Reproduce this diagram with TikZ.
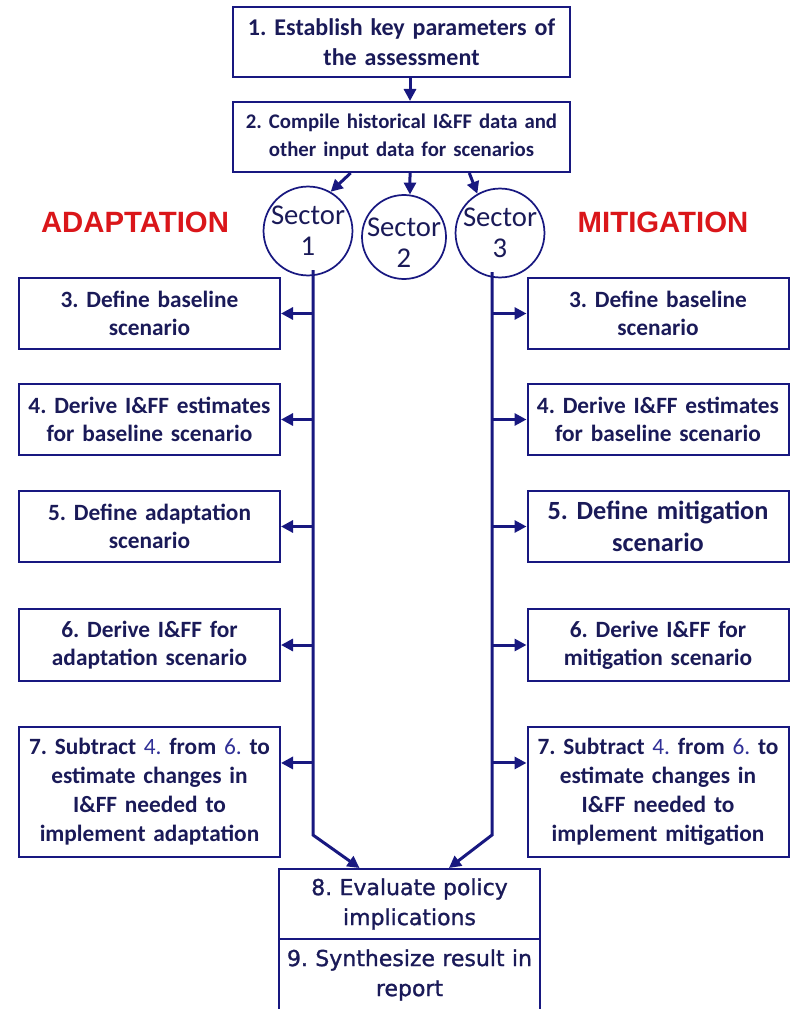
\documentclass[tikz,border=0pt]{standalone}
\usepackage{fontspec}
\setmainfont{Carlito}
\newfontfamily\headfont{Liberation Sans}
\newfontfamily\evalfont[FakeBold=1.2]{DejaVu Sans}
\usetikzlibrary{arrows.meta,positioning,calc}
\definecolor{navyline}{RGB}{24,24,128}
\definecolor{navytext}{RGB}{26,26,88}
\definecolor{numblue}{RGB}{48,48,150}
\definecolor{headred}{RGB}{218,22,26}
\newcommand\stepnum[1]{{\mdseries\color{numblue}#1}}
\newcommand\lowtext[1]{\raisebox{-12pt}[0pt][0pt]{\begin{tabular}{@{}c@{}}#1\end{tabular}}}
\tikzset{
  >={Triangle[length=9pt,width=9pt]},
  every node/.append style={text=navytext},
  box/.style={draw=navyline, line width=1.5pt, align=center, inner sep=2pt,
    font=\bfseries\fontsize{17.5}{21}\selectfont},
  topbox/.style={box, minimum width=252.75pt, minimum height=52.5pt, text width=245pt},
  sidebox/.style={box, minimum width=195.75pt, minimum height=53.25pt, text width=190pt},
  endbox/.style={box, minimum width=195.75pt, minimum height=52.5pt, text width=190pt,
    font=\evalfont\fontsize{16.5}{22.5}\selectfont},
  sector/.style={draw=navyline, line width=1.3pt, circle, minimum size=60pt, inner sep=0pt,
    align=center, font=\fontsize{21.5}{23.25}\selectfont},
  sidelabel/.style={text=headred, font=\headfont\bfseries\fontsize{22}{26}\selectfont},
  spine/.style={draw=navyline, line width=2.25pt}
}

\begin{document}
\frenchspacing
\begin{tikzpicture}[x=0.75pt,y=-0.75pt]
\useasboundingbox (0,0) rectangle (790,1009);

% shared steps
\node[topbox, font=\bfseries\fontsize{18}{22.5}\selectfont] (establish) at (401.5,42) {1. Establish key parameters of\\the assessment};
\node[topbox, font=\bfseries\fontsize{15.6}{21}\selectfont] (compile) at (401.5,137) {2. Compile historical I\&FF data and\\other input data for scenarios};

\node[sector] (sec1) at (308,231) {Sector\\1};
\node[sector, minimum size=63pt] (sec2) at (404,237) {\lowtext{Sector\\[0.2pt]2}};
\node[sector] (sec3) at (500,233) {Sector\\3};

\node[sidelabel] (adapt) at (135,222) {ADAPTATION};
\node[sidelabel] (mitig) at (663,222) {MITIGATION};

% adaptation column
\node[sidebox] (a3) at (149.5,313.5) {3. Define baseline\\scenario};
\node[sidebox] (a4) at (149.5,419.5) {4. Derive I\&FF estimates\\for baseline scenario};
\node[sidebox] (a5) at (149.5,526.5) {5. Define adaptation\\scenario};
\node[sidebox, minimum height=54pt] (a6) at (149.5,645) {6. Derive I\&FF for\\adaptation scenario};
\node[sidebox, minimum height=97.5pt, font=\bfseries\fontsize{17.5}{21.75}\selectfont] (a7) at (149.5,792)
  {7. Subtract \stepnum{4.} from \stepnum{6.} to\\estimate changes in\\I\&FF needed to\\implement adaptation};

% mitigation column
\node[sidebox] (m3) at (658,313.5) {3. Define baseline\\scenario};
\node[sidebox] (m4) at (658,419.5) {4. Derive I\&FF estimates\\for baseline scenario};
\node[sidebox, font=\bfseries\fontsize{19.7}{24}\selectfont] (m5) at (658,526.5) {5. Define mitigation\\scenario};
\node[sidebox, minimum height=54pt] (m6) at (658,645) {6. Derive I\&FF for\\mitigation scenario};
\node[sidebox, minimum height=97.5pt, font=\bfseries\fontsize{17.5}{21.75}\selectfont] (m7) at (658,792)
  {7. Subtract \stepnum{4.} from \stepnum{6.} to\\estimate changes in\\I\&FF needed to\\implement mitigation};

\node[endbox] (evaluate) at (409.5,904) {8. Evaluate policy\\implications};
\node[endbox, minimum height=54pt] (synth) at (409.5,975) {9. Synthesize result in\\report};

% connectors
\draw[spine,->] ($(establish.south)+(8.5,0)$) -- ($(compile.north)+(8.5,0)$);
\draw[spine,->] ($(compile.south west)!0.35!(compile.south east)$) -- (sec1.60);
\draw[spine,->] ($(compile.south)+(8.5,0)$) -- (sec2.82);
\draw[spine,->] ($(compile.south west)!0.70!(compile.south east)$) -- (sec3.120);

\coordinate (ltop) at (313,270);
\coordinate (lbend) at (313,835);
\coordinate (rtop) at (492,272);
\coordinate (rbend) at (492,835);
\draw[spine,->] (ltop) -- (lbend) -- ($(evaluate.north west)!0.31!(evaluate.north east)$);
\draw[spine,->] (rtop) -- (rbend) -- ($(evaluate.north west)!0.65!(evaluate.north east)$);

\foreach \n in {a3,a4,a5,a6}
  \draw[spine,->] (ltop |- \n.east) -- (\n.east);
\foreach \n in {m3,m4,m5,m6}
  \draw[spine,->] (rtop |- \n.west) -- (\n.west);
\draw[spine,->] (ltop |- {$(a7.north east)!0.28!(a7.south east)$}) -- ($(a7.north east)!0.28!(a7.south east)$);
\draw[spine,->] (rtop |- {$(m7.north west)!0.28!(m7.south west)$}) -- ($(m7.north west)!0.28!(m7.south west)$);
\end{tikzpicture}
\end{document}
